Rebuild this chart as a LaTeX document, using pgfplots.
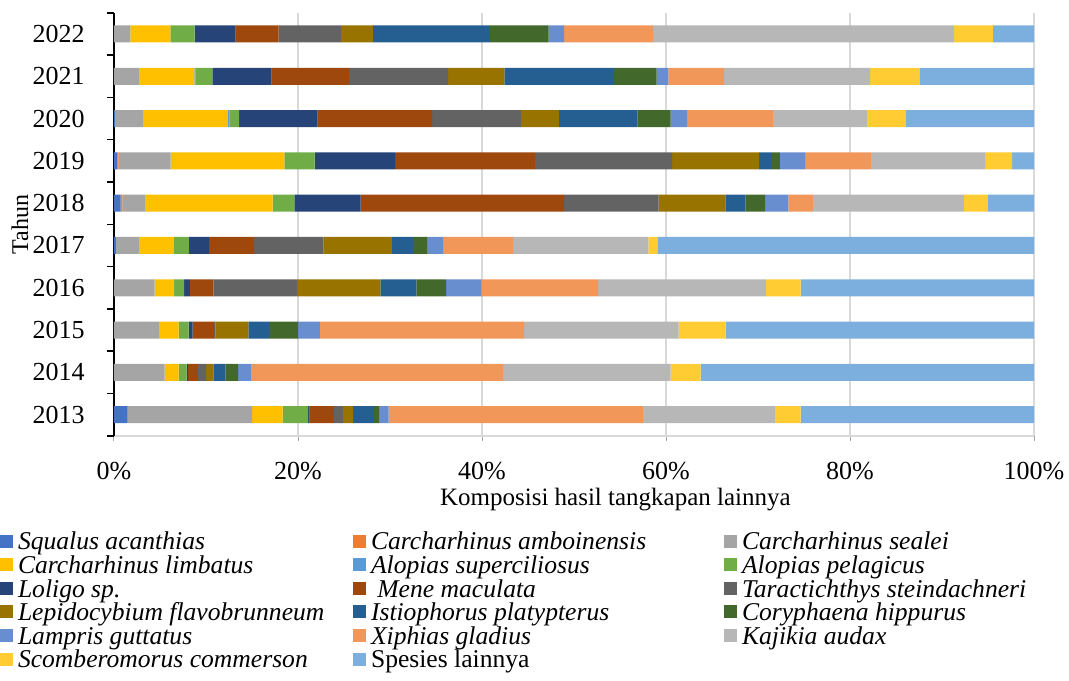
\documentclass[border=0pt]{standalone}
\usepackage{fontspec}
\setmainfont{Liberation Serif}
\usepackage{pgfplots}
\usepackage{pgfplotstable}
\pgfplotsset{compat=1.18}

\definecolor{c1}{HTML}{4472C4}
\definecolor{c2}{HTML}{ED7D31}
\definecolor{c3}{HTML}{A5A5A5}
\definecolor{c4}{HTML}{FFC000}
\definecolor{c5}{HTML}{5B9BD5}
\definecolor{c6}{HTML}{70AD47}
\definecolor{c7}{HTML}{264478}
\definecolor{c8}{HTML}{9E480E}
\definecolor{c9}{HTML}{636363}
\definecolor{c10}{HTML}{997300}
\definecolor{c11}{HTML}{255E91}
\definecolor{c12}{HTML}{43682B}
\definecolor{c13}{HTML}{698ED0}
\definecolor{c14}{HTML}{F1975A}
\definecolor{c15}{HTML}{B7B7B7}
\definecolor{c16}{HTML}{FFCD33}
\definecolor{c17}{HTML}{7CAFDD}
\definecolor{gridc}{HTML}{D9D9D9}

\pgfplotstableread{
year s1 s2 s3 s4 s5 s6 s7 s8 s9 s10 s11 s12 s13 s14 s15 s16 s17
2013 1.49 0 13.51 3.34 0 2.75 0.18 2.64 0.98 1.09 2.28 0.62 0.98 27.61 14.45 2.72 25.36
2014 0 0 5.51 1.52 0 0.87 0.15 1.08 0.87 0.80 1.30 1.38 1.41 27.40 18.22 3.26 36.23
2015 0 0 4.97 2.06 0 1.09 0.43 2.32 0.18 3.55 2.25 3.15 2.39 22.18 16.81 5.11 33.51
2016 0 0 4.42 2.11 0 1.08 0.65 2.54 9.10 9.05 3.92 3.22 3.88 12.64 18.23 3.80 25.36
2017 0.20 0 2.59 3.73 0 1.63 2.18 4.89 7.57 7.40 2.31 1.60 1.66 7.61 14.72 0.98 40.93
2018 0.73 0.18 2.54 13.80 0 2.36 7.20 22.11 10.28 7.25 2.18 2.13 2.54 2.65 16.41 2.61 5.03
2019 0.37 0.14 5.65 12.36 0 3.29 8.74 15.21 14.90 9.45 1.31 0.94 2.75 7.14 12.43 2.93 2.39
2020 0.10 0 3.13 9.16 0.19 1.01 8.55 12.43 9.64 4.13 8.58 3.59 1.85 9.24 10.22 4.24 13.94
2021 0 0 2.79 5.95 0.11 1.84 6.45 8.41 10.76 6.12 11.92 4.64 1.27 6.05 15.87 5.36 12.46
2022 0 0 1.78 4.35 0 2.64 4.45 4.68 6.78 3.47 12.69 6.41 1.67 9.67 32.72 4.20 4.49
}\datatable

\newcommand\la[1]{\makebox[167.5pt][l]{#1}}
\newcommand\lb[1]{\makebox[176.5pt][l]{#1}}

\begin{document}
\begin{tikzpicture}
\begin{axis}[
  scale only axis,
  width=460pt, height=211.5pt,
  xbar stacked,
  bar width=8.5pt,
  xmin=0, xmax=100,
  ymin=2012.5, ymax=2022.5,
  axis x line*=bottom,
  axis y line*=left,
  x axis line style={draw=gridc, line width=0.75pt},
  y axis line style={draw=black, line width=0.75pt},
  xtick={0,20,40,60,80,100},
  xticklabels={0\%,20\%,40\%,60\%,80\%,100\%},
  ytick={2013,2014,2015,2016,2017,2018,2019,2020,2021,2022},
  yticklabels={2013,2014,2015,2016,2017,2018,2019,2020,2021,2022},
  minor ytick={2012.5,2013.5,2014.5,2015.5,2016.5,2017.5,2018.5,2019.5,2020.5,2021.5,2022.5},
  tick align=outside,
  major tick length=2.5pt,
  minor tick length=3.5pt,
  major x tick style={draw=gray!70, line width=0.5pt},
  major y tick style={draw=none},
  minor tick style={black, line width=0.75pt},
  xmajorgrids,
  major grid style={draw=gridc, line width=0.75pt},
  ticklabel style={font=\fontsize{13}{15}\selectfont},
  xticklabel style={inner sep=0pt, yshift=-10.5pt},
  yticklabel style={inner sep=0pt, xshift=-12pt},
  /pgf/number format/assume math mode=true,
  xlabel={Komposisi hasil tangkapan lainnya},
  xlabel style={font=\fontsize{12.5}{15}\selectfont, at={(axis description cs:0.545,-0.151)}, anchor=center},
  ylabel={Tahun},
  ylabel style={font=\fontsize{12}{14}\selectfont, at={(axis description cs:-0.1022,0.5)}, anchor=center},
  clip=false,
  legend columns=3,
  legend cell align=left,
  legend image code/.code={\path[#1] (0pt,-1.5pt) rectangle (6.5pt,5pt);},
  legend style={draw=none, fill=none, inner sep=0pt, outer sep=0pt,
    at={(axis description cs:-0.1239,-0.2294)}, anchor=north west,
    font=\fontsize{12.8}{12.8}\selectfont,
    row sep=0pt, column sep=0pt,
    nodes={inner sep=0pt, text height=8.5pt, text depth=3.3pt},
    /tikz/every odd column/.append style={column sep=2.5pt}},
  every axis plot/.append style={draw=none},
]
\addplot[fill=c1] table[x=s1,y=year]{\datatable};
\addlegendentry{\la{\textit{Squalus acanthias}}}
\addplot[fill=c2] table[x=s2,y=year]{\datatable};
\addlegendentry{\lb{\textit{Carcharhinus amboinensis}}}
\addplot[fill=c3] table[x=s3,y=year]{\datatable};
\addlegendentry{\textit{Carcharhinus sealei}}
\addplot[fill=c4] table[x=s4,y=year]{\datatable};
\addlegendentry{\la{\textit{Carcharhinus limbatus}}}
\addplot[fill=c5] table[x=s5,y=year]{\datatable};
\addlegendentry{\lb{\textit{Alopias superciliosus}}}
\addplot[fill=c6] table[x=s6,y=year]{\datatable};
\addlegendentry{\textit{Alopias pelagicus}}
\addplot[fill=c7] table[x=s7,y=year]{\datatable};
\addlegendentry{\la{\textit{Loligo sp.}}}
\addplot[fill=c8] table[x=s8,y=year]{\datatable};
\addlegendentry{\lb{\textit{\ Mene maculata}}}
\addplot[fill=c9] table[x=s9,y=year]{\datatable};
\addlegendentry{\textit{Taractichthys steindachneri}}
\addplot[fill=c10] table[x=s10,y=year]{\datatable};
\addlegendentry{\la{\textit{Lepidocybium flavobrunneum}}}
\addplot[fill=c11] table[x=s11,y=year]{\datatable};
\addlegendentry{\lb{\textit{Istiophorus platypterus}}}
\addplot[fill=c12] table[x=s12,y=year]{\datatable};
\addlegendentry{\textit{Coryphaena hippurus}}
\addplot[fill=c13] table[x=s13,y=year]{\datatable};
\addlegendentry{\la{\textit{Lampris guttatus}}}
\addplot[fill=c14] table[x=s14,y=year]{\datatable};
\addlegendentry{\lb{\textit{Xiphias gladius}}}
\addplot[fill=c15] table[x=s15,y=year]{\datatable};
\addlegendentry{\textit{Kajikia audax}}
\addplot[fill=c16] table[x=s16,y=year]{\datatable};
\addlegendentry{\la{\textit{Scomberomorus commerson}}}
\addplot[fill=c17] table[x=s17,y=year]{\datatable};
\addlegendentry{\lb{Spesies lainnya}}
\path (rel axis cs:-0.1239,1.0303) rectangle (rel axis cs:1.038,-0.579);
\end{axis}
\end{tikzpicture}
\end{document}
